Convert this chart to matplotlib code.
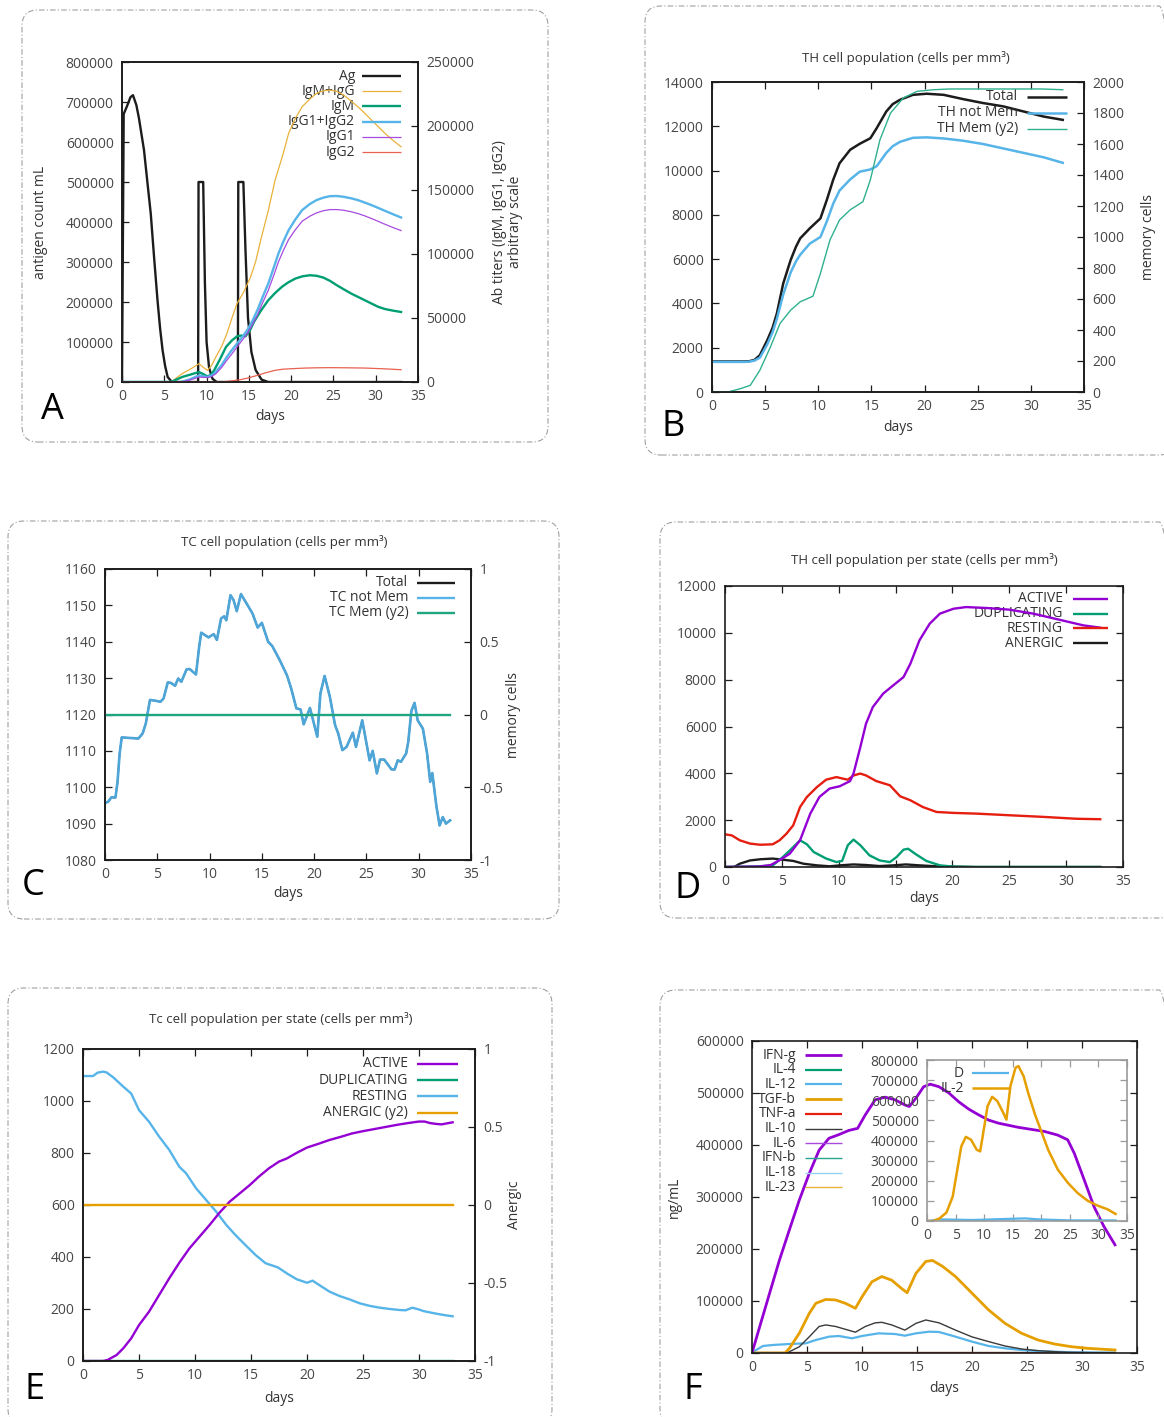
import matplotlib
matplotlib.use("Agg")
import numpy as np
import matplotlib.pyplot as plt
from matplotlib.patches import FancyBboxPatch
from matplotlib.transforms import IdentityTransform
from matplotlib.ticker import FuncFormatter

plt.rcParams['font.family'] = ['Open Sans', 'DejaVu Sans']

W, H = 1164, 1417

# gnuplot-like palette
BLACK = '#1c1c1c'
PURPLE = '#9400d3'
GREEN = '#009e73'
BLUE = '#56b4e9'
ORANGE = '#e69f00'
RED = '#e51e10'
TEAL = '#2fb08e'
TXT = '#333333'
TICK_TXT = '#474747'

# ---------------- Panel A: antigen / antibodies ----------------
ag_days = [0, 0.2, 0.6, 1.0, 1.3, 1.7, 2.0, 2.6, 3.0, 3.4, 3.8, 4.2, 4.5, 4.8, 5.1, 5.4, 5.8, 6.2,
           9.0, 9.05, 9.6, 9.8, 10.0, 10.3, 10.7, 11.2,
           13.7, 13.75, 14.35, 14.6, 14.9, 15.3, 15.8, 16.5, 17.3, 33.0]
ag = [0, 670000, 690000, 712000, 717000, 692000, 660000, 580000, 500000, 421000, 310000, 204000, 135000,
      79000, 40000, 12500, 2500, 0,
      0, 500000, 500000, 250000, 100000, 35000, 8000, 0,
      0, 500000, 500000, 330000, 160000, 75000, 30000, 6000, 0, 0]

igm_igg_days = [0, 5.8, 7.1, 8.2, 9.1, 9.6, 10.1, 10.6, 11.1, 11.8, 12.4, 13.0, 13.6, 14.4, 15.2, 15.8,
                16.4, 17.3, 18.1, 19.0, 19.7, 20.5, 21.3, 22.2, 23.0, 23.8, 24.6, 25.4, 26.2, 27.0,
                27.9, 28.7, 29.5, 30.3, 31.1, 32.0, 33.0]
igm_igg = [0, 0, 6500, 10500, 14300, 11500, 9100, 13000, 19600, 28000, 37800, 50000, 61300, 70400,
           82000, 94000, 110800, 134000, 157700, 177000, 194200, 206000, 215000, 221000, 225500,
           227500, 228100, 227000, 224200, 220000, 215000, 210000, 204600, 199500, 194200, 189000,
           183800]

igm_days = [0, 5.8, 7.1, 8.2, 9.1, 9.6, 10.1, 10.5, 10.9, 11.6, 12.3, 13.0, 13.6, 14.1, 14.6, 15.1,
            15.6, 16.4, 17.3, 18.1, 18.9, 19.7, 20.5, 21.3, 22.2, 23.0, 23.8, 24.6, 25.4, 26.2,
            27.1, 27.9, 28.7, 29.5, 30.3, 31.1, 32.0, 33.0]
igm = [0, 0, 3900, 6000, 7800, 6200, 4400, 5500, 9100, 18000, 27400, 32500, 35700, 36300, 35700,
       40000, 46900, 55500, 63900, 69500, 74300, 78000, 80800, 82500, 83400, 83000, 81600, 79000,
       75600, 72500, 69100, 66500, 63900, 61300, 58700, 57000, 55800, 54700]

igg_days = [0, 7.0, 8.0, 9.1, 9.6, 10.1, 10.6, 11.1, 11.8, 12.4, 13.0, 13.6, 14.2, 14.8, 15.4, 16.0,
            16.6, 17.3, 17.9, 18.5, 19.1, 19.7, 20.5, 21.3, 22.2, 23.0, 23.8, 24.6, 25.4, 26.2,
            27.1, 27.9, 28.7, 29.5, 30.3, 31.1, 32.0, 33.0]
igg1_igg2 = [0, 0, 2000, 5200, 4500, 3900, 5000, 7800, 13500, 19600, 25000, 30000, 35000, 40400,
             47500, 56000, 66000, 76900, 88500, 100400, 110000, 118600, 127000, 134300, 139000,
             142100, 144000, 145200, 145300, 144700, 143500, 142100, 140200, 138200, 136000,
             133700, 131200, 128500]
igg1 = [0, 0, 1500, 3900, 3600, 3500, 4300, 6500, 11500, 17000, 22000, 27400, 32500, 37800, 44500,
        52100, 61500, 71700, 82500, 93900, 103000, 111300, 119000, 125600, 129500, 132100, 133800,
        134700, 134700, 134200, 133000, 131600, 129800, 127700, 125500, 123200, 120800, 118300]

igg2_days = [0, 11.5, 12.5, 14.0, 15.0, 16.0, 17.0, 18.1, 19.0, 20.1, 21.0, 21.8, 23.0, 24.6, 26.5,
             28.7, 31.0, 33.0]
igg2 = [0, 0, 500, 1800, 3300, 5200, 7200, 9100, 10000, 10400, 10700, 10900, 11100, 11200, 11100,
        10900, 10300, 9600]

# ---------------- Panel B: TH cell population ----------------
th_days = [0, 1, 2, 3, 3.5, 4.0, 4.5, 5.2, 5.7, 6.1, 6.7, 7.4, 7.9, 8.3, 9.2, 10.2, 10.8, 11.4, 12.0,
           13.0, 13.9, 14.9, 15.5, 16.4, 17.0, 17.7, 18.9, 20.2, 21.8, 23.6, 25.5, 27.4, 29.3,
           31.2, 33.0]
th_total = [1380, 1380, 1380, 1380, 1390, 1450, 1660, 2340, 2900, 3540, 4900, 5960, 6560, 6940, 7390,
            7840, 8670, 9580, 10330, 10940, 11210, 11460, 11920, 12670, 13000, 13200, 13420,
            13470, 13420, 13230, 13050, 12900, 12670, 12440, 12290]
th_not_mem = [1360, 1360, 1360, 1360, 1370, 1420, 1550, 2150, 2700, 3300, 4400, 5400, 5900, 6200,
              6700, 7000, 7700, 8500, 9100, 9600, 9950, 10050, 10200, 10800, 11100, 11300, 11480,
              11500, 11450, 11350, 11200, 11000, 10800, 10600, 10350]
th_mem_days = [0, 1.5, 2.7, 3.6, 4.5, 5.5, 6.4, 7.4, 8.3, 9.5, 10.2, 11.1, 12.0, 13.0, 14.2, 14.9,
               15.8, 16.8, 18.0, 19.3, 20.8, 22.4, 25, 28, 31, 33]
th_mem = [0, 0, 22, 43, 140, 291, 442, 528, 582, 618, 765, 981, 1110, 1175, 1228, 1369, 1627, 1800,
          1897, 1940, 1950, 1955, 1955, 1955, 1955, 1950]

# ---------------- Panel C: TC cell population ----------------
tc_days = [0, 0.3, 0.6, 1.0, 1.2, 1.4, 1.6, 2.1, 3.2, 3.6, 3.9, 4.3, 4.8, 5.3, 5.6, 6.0, 6.3, 6.7,
           7.0, 7.3, 7.8, 8.1, 8.7, 9.0, 9.2, 9.9, 10.4, 10.7, 11.1, 11.4, 11.6, 12.0, 12.3, 12.6,
           13.0, 13.5, 14.1, 14.6, 15.0, 15.6, 16.0, 16.7, 17.4, 17.8, 18.3, 18.7, 19.0, 19.6,
           20.3, 20.6, 21.0, 21.5, 22.0, 22.3, 22.7, 23.1, 23.7, 24.0, 24.6, 25.3, 25.6, 26.0,
           26.3, 26.7, 27.4, 27.7, 28.0, 28.3, 28.8, 29.0, 29.3, 29.6, 29.9, 30.4, 30.8, 31.1,
           31.3, 31.7, 32.0, 32.3, 32.6, 33.0]
tc_not_mem = [1095.7, 1096, 1097.2, 1097.2, 1101.5, 1109.3, 1113.7, 1113.6, 1113.4, 1114.8, 1117.5,
              1124, 1123.8, 1123.5, 1124.4, 1128.8, 1128.7, 1127.9, 1129.9, 1129, 1132.4, 1132.5,
              1131, 1138.5, 1142.5, 1141.2, 1142.1, 1140.5, 1146.4, 1147, 1145.9, 1152.8, 1151.4,
              1148.4, 1153.1, 1150.7, 1147.8, 1143.9, 1145.2, 1140, 1138.8, 1135, 1130.8, 1127.2,
              1121.7, 1121.4, 1117.3, 1121.8, 1113.9, 1125.8, 1130.6, 1124.9, 1117.1, 1114.8,
              1110.2, 1111.1, 1115, 1111.1, 1118.4, 1107.4, 1110, 1103.8, 1107.6, 1107.6, 1104.9,
              1104.9, 1107.4, 1107, 1109.3, 1112.5, 1121, 1123.2, 1118.4, 1116.1, 1109.3, 1101.5,
              1103.9, 1094.6, 1089.5, 1091.8, 1090, 1090.9]
tc_total = tc_not_mem          # memory cells stay at zero
tc_mem_days = [0, 33]
tc_mem = [0, 0]

# ---------------- Panel D: TH cell population per state ----------------
d_active_days = [0, 3, 4, 4.5, 5.1, 5.7, 6.6, 7.5, 8.3, 9.2, 10.1, 11.0, 11.3, 11.9, 12.4, 13.0,
                 13.9, 14.8, 15.7, 16.3, 17.1, 18.0, 18.9, 20.1, 21.2, 23.0, 25.0, 27.1, 29.4,
                 31.5, 33.0]
d_active = [0, 20, 80, 210, 380, 570, 1140, 2280, 2990, 3350, 3450, 3670, 3990, 5120, 6120, 6830,
            7400, 7760, 8110, 8680, 9680, 10390, 10820, 11030, 11100, 11060, 10990, 10820, 10560,
            10320, 10220]
d_rest_days = [0, 0.6, 1.3, 2.2, 3.1, 4.2, 4.8, 5.4, 6.0, 6.6, 7.2, 8.1, 8.9, 9.8, 10.4, 10.8, 11.3,
               11.9, 12.4, 13.3, 14.5, 15.4, 16.3, 17.4, 18.6, 20.1, 22.1, 25.0, 28.0, 30.9, 33.0]
d_resting = [1395, 1350, 1140, 1000, 950, 970, 1140, 1420, 1780, 2560, 2990, 3420, 3730, 3840, 3770,
             3730, 3910, 3990, 3910, 3670, 3490, 3020, 2850, 2560, 2350, 2310, 2280, 2210, 2140,
             2060, 2040]
d_dup_days = [0, 3, 4.2, 5.1, 6.0, 6.6, 7.2, 7.8, 8.9, 9.8, 10.3, 10.8, 11.3, 11.9, 12.7, 13.6,
              14.5, 15.1, 15.7, 16.1, 16.8, 17.7, 18.9, 20.1, 22, 33]
d_dup = [0, 30, 70, 430, 850, 1140, 970, 640, 360, 210, 260, 930, 1170, 930, 500, 280, 210, 430,
         740, 780, 540, 260, 70, 15, 0, 0]
d_anergic_days = [0, 0.8, 1.3, 2.2, 3.1, 4.2, 5.1, 6.0, 6.9, 8.1, 9.2, 10.1, 11.3, 12.4, 13.6, 14.8,
                  15.9, 17.1, 18.6, 22, 33]
d_anergic = [0, 0, 140, 280, 330, 360, 310, 260, 140, 70, 30, 70, 110, 85, 40, 70, 110, 70, 30, 0, 0]

# ---------------- Panel E: Tc cell population per state ----------------
e_rest_days = [0, 0.9, 1.3, 1.8, 2.1, 2.7, 3.6, 4.3, 5.0, 5.9, 6.8, 7.7, 8.6, 9.2, 10.1, 11.0, 11.9,
               12.8, 13.6, 14.5, 15.4, 16.3, 17.4, 18.2, 19.1, 20.0, 20.5, 21.1, 22.0, 22.9, 23.8,
               24.7, 25.6, 26.5, 27.4, 28.3, 28.8, 29.4, 30.0, 30.4, 31.3, 32.2, 33.0]
e_resting = [1096, 1096, 1109, 1113, 1110, 1091, 1055, 1029, 965, 920, 863, 812, 747, 722, 664, 619,
             574, 523, 485, 446, 408, 376, 360, 337, 314, 301, 309, 292, 267, 250, 237, 222, 212,
             205, 200, 196, 195, 205, 198, 192, 184, 177, 172]
e_act_days = [0, 1.8, 2.2, 3.0, 3.6, 4.3, 5.0, 5.9, 6.8, 7.7, 8.6, 9.5, 10.4, 11.3, 12.2, 13.1, 14.0,
              14.9, 15.7, 16.6, 17.5, 18.2, 19.1, 20.0, 21.0, 22.0, 23.0, 24.0, 25.0, 26.0, 27.0,
              28.0, 29.0, 30.0, 30.5, 31.0, 31.5, 32.0, 32.5, 33.0]
e_active = [0, 0, 4, 23, 49, 87, 138, 190, 254, 318, 378, 433, 478, 523, 571, 613, 645, 677, 709,
            741, 767, 779, 801, 821, 835, 850, 862, 875, 884, 892, 900, 908, 915, 921, 921, 915,
            912, 910, 914, 918]
e_flat_days = [0, 33]
e_dup = [0, 0]
e_anergic = [0, 0]

# ---------------- Panel F: cytokines ----------------
ifng_days = [0, 0.7, 1.6, 2.5, 3.4, 4.3, 5.2, 6.1, 7.0, 7.9, 8.8, 9.6, 10.3, 11.2, 12.1, 13.0, 13.9,
             14.3, 14.9, 15.6, 16.2, 17.0, 17.9, 18.8, 19.7, 20.6, 21.5, 22.4, 23.3, 24.2, 25.4,
             26.6, 27.8, 28.7, 29.3, 30.2, 31.1, 32.0, 33.0]
ifng = [0, 50600, 115000, 179000, 237000, 294000, 345000, 390000, 413000, 420000, 428000, 432000,
        458000, 487000, 492000, 487000, 477000, 474000, 490000, 512000, 517000, 512000, 500000,
        483000, 469000, 458000, 448000, 442000, 438000, 434000, 430000, 426000, 419000, 410000,
        384000, 333000, 281000, 243000, 208000]
tgfb_days = [0, 3.0, 3.4, 4.3, 5.2, 5.8, 6.7, 7.6, 8.5, 9.4, 10.0, 10.9, 11.8, 12.7, 13.6, 14.1,
             14.9, 15.8, 16.4, 17.3, 18.5, 20.0, 21.5, 23.0, 24.5, 26.0, 27.5, 29.0, 30.5, 33.0]
tgfb = [0, 0, 9000, 38000, 76000, 95500, 103000, 102000, 95500, 86000, 108000, 137000, 147000,
        140000, 124000, 116000, 153000, 176000, 178000, 167000, 147000, 115000, 83000, 57000,
        38000, 25000, 17300, 12200, 9000, 5800]
il10_days = [0, 3.2, 3.4, 4.3, 5.2, 6.1, 6.7, 7.6, 8.5, 9.4, 10.3, 11.2, 11.8, 12.7, 13.9, 14.9,
             15.8, 17.0, 18.5, 20.0, 21.5, 23.0, 24.5, 26.0, 27.5, 29.0, 33.0]
il10 = [0, 0, 2500, 12000, 31000, 51000, 54000, 51000, 45500, 40000, 51000, 58000, 59000, 54000,
        44000, 57000, 63500, 58000, 44000, 31000, 22000, 13500, 7700, 4500, 2500, 1300, 0]
il12_days = [0, 0.4, 1.0, 1.9, 3.4, 4.9, 5.8, 7.0, 7.9, 9.1, 10.0, 11.5, 13.0, 13.9, 14.9, 16.1,
             17.0, 18.5, 20.0, 21.5, 23.0, 24.5, 26.0, 29.0, 33.0]
il12 = [0, 6000, 13500, 15400, 17300, 18600, 25000, 31400, 32700, 28200, 32700, 37800, 36500,
        33300, 37800, 41000, 40400, 31400, 21800, 13500, 9000, 5800, 3800, 1300, 600]
f_flat_days = [0, 33]
il4 = [0, 0]
tnfa = [0, 0]
il6 = [0, 0]
ifnb = [0, 0]
il18 = [0, 0]
il23 = [0, 0]

# inset
il2_days = [0, 1.1, 2.2, 3.4, 4.5, 5.4, 6.0, 6.8, 7.7, 8.7, 9.3, 9.7, 10.6, 11.4, 12.3, 13.2, 13.9,
            14.6, 15.5, 16.0, 16.9, 17.7, 18.9, 20.1, 21.2, 22.9, 24.7, 26.4, 28.1, 29.8, 31.6, 33.0]
il2 = [0, 0, 13000, 42000, 121000, 271000, 371000, 418000, 404000, 354000, 346000, 413000, 571000,
       617000, 596000, 546000, 504000, 671000, 762000, 770000, 720000, 637000, 529000, 438000,
       354000, 255000, 188000, 138000, 101000, 77000, 58000, 35000]
dc_days = [0, 2.2, 8, 13.7, 17.2, 19.5, 25, 33]
dc = [0, 8000, 5000, 10000, 13000, 8000, 3000, 3000]


fig = plt.figure(figsize=(W / 100, H / 100), dpi=100)
fmt = FuncFormatter(lambda v, p: f'{v:g}')


def add_ax(l, t, r, b):
    # pixel box (left, top, right, bottom) -> figure axes
    return fig.add_axes([l / W, 1 - b / H, (r - l) / W, (b - t) / H])


def frame(ax, top=True, right=True, left=True, edge=BLACK, tick=BLACK):
    ax.tick_params(axis='both', direction='in', length=5, width=0.9, color=tick,
                   labelcolor=TICK_TXT, labelsize=10, top=top, right=right, left=left)
    ax.tick_params(axis='y', pad=6)
    ax.tick_params(axis='x', pad=5)
    for s in ax.spines.values():
        s.set_linewidth(1.2)
        s.set_color(edge)
    ax.set_xlim(0, 35)
    ax.set_xticks(range(0, 36, 5))
    ax.yaxis.set_major_formatter(fmt)


def yaxis(ax, lo, hi, step):
    ax.set_ylim(lo, hi)
    ax.set_yticks(np.arange(lo, hi + step / 2, step))
    ax.yaxis.set_major_formatter(fmt)


def twin(ax):
    ax2 = ax.twinx()
    ax2.tick_params(axis='y', direction='in', length=5, width=0.9, color=BLACK,
                    labelcolor=TICK_TXT, labelsize=10, pad=6, right=True, left=False)
    for s in ax2.spines.values():
        s.set_linewidth(1.2)
        s.set_color(BLACK)
    return ax2


def key(ax, items, xt, y0, dy, x0, x1, fs=10):
    # gnuplot style key: right aligned text, sample line on its right
    for i, (label, color, lw) in enumerate(items):
        y = y0 - i * dy
        ax.text(xt, y, label, transform=ax.transAxes, ha='right', va='center',
                fontsize=fs, color=TXT, zorder=1.5)
        ax.plot([x0, x1], [y, y], transform=ax.transAxes, color=color, lw=lw,
                clip_on=False, solid_capstyle='butt')


def days_label(ax, y):
    ax.set_xlabel('days', fontsize=10, color=TXT)
    ax.xaxis.set_label_coords(0.5, y)


def panel_box(l, t, r, b, letter, lx, ly):
    p = FancyBboxPatch((l, H - b), r - l, b - t, boxstyle='round,pad=0,rounding_size=16',
                       transform=IdentityTransform(), fill=False, edgecolor='#a0a0a0',
                       lw=0.8, linestyle=(0, (5, 2, 1, 2)))
    fig.add_artist(p)
    fig.text(lx / W, 1 - ly / H, letter, fontsize=26, ha='center', va='center', color='black')


def title(x, y, s):
    fig.text(x / W, 1 - y / H, s, fontsize=9.5, ha='center', va='center', color=TXT)


# ---- A ----
panel_box(22, 10, 548, 442, 'A', 52, 410)
axA = add_ax(122, 62, 418, 382)
frame(axA, top=False, right=False)
yaxis(axA, 0, 800000, 100000)
axA.plot(ag_days, ag, color=BLACK, lw=1.7)
axA.set_ylabel('antigen count mL', fontsize=10, color=TXT)
axA.yaxis.set_label_coords(-0.25, 0.5)
days_label(axA, -0.085)
axA2 = twin(axA)
yaxis(axA2, 0, 250000, 50000)
axA2.plot(igm_igg_days, igm_igg, color='#e8b23a', lw=0.9)
axA2.plot(igm_days, igm, color=GREEN, lw=1.7)
axA2.plot(igg_days, igg1_igg2, color=BLUE, lw=1.7)
axA2.plot(igg_days, igg1, color='#a64ae0', lw=0.9)
axA2.plot(igg2_days, igg2, color='#e8604f', lw=0.9)
axA2.set_ylabel('Ab titers (IgM, IgG1, IgG2)\narbitrary scale', fontsize=10, color=TXT,
                linespacing=1.1)
axA2.yaxis.set_label_coords(1.25, 0.5)
key(axA2, [('Ag', BLACK, 1.7), ('IgM+IgG', '#e8b23a', 0.9), ('IgM', GREEN, 1.7),
           ('IgG1+IgG2', BLUE, 1.7), ('IgG1', '#a64ae0', 0.9), ('IgG2', '#e8604f', 0.9)],
    0.787, 0.956, 0.0475, 0.811, 0.943)

# ---- B ----
panel_box(645, 6, 1175, 455, 'B', 673, 427)
title(906, 58, 'TH cell population (cells per mm³)')
axB = add_ax(712, 82, 1084, 392)
frame(axB, right=False)
yaxis(axB, 0, 14000, 2000)
axB.plot(th_days, th_total, color=BLACK, lw=1.8)
axB.plot(th_days, th_not_mem, color=BLUE, lw=1.8)
days_label(axB, -0.09)
axB2 = twin(axB)
yaxis(axB2, 0, 2000, 200)
axB2.plot(th_mem_days, th_mem, color=TEAL, lw=1.0)
axB2.set_ylabel('memory cells', fontsize=10, color=TXT)
axB2.yaxis.set_label_coords(1.153, 0.5)
key(axB2, [('Total', BLACK, 1.8), ('TH not Mem', BLUE, 1.8), ('TH Mem (y2)', TEAL, 1.0)],
    0.823, 0.9526, 0.0516, 0.847, 0.954)

# ---- C ----
panel_box(8, 521, 559, 919, 'C', 33, 886)
title(284, 542, 'TC cell population (cells per mm³)')
axC = add_ax(105, 569, 471, 860)
frame(axC, right=False)
yaxis(axC, 1080, 1160, 10)
axC.plot(tc_days, tc_total, color=BLACK, lw=1.2)
axC.plot(tc_days, tc_not_mem, color='#4ea6d8', lw=1.9)
days_label(axC, -0.09)
axC2 = twin(axC)
yaxis(axC2, -1, 1, 0.5)
axC2.plot(tc_mem_days, tc_mem, color='#1fa680', lw=1.7)
axC2.set_ylabel('memory cells', fontsize=10, color=TXT)
axC2.yaxis.set_label_coords(1.096, 0.5)
key(axC2, [('Total', BLACK, 1.7), ('TC not Mem', BLUE, 1.7), ('TC Mem (y2)', '#1fa680', 1.7)],
    0.829, 0.953, 0.0515, 0.852, 0.956)

# ---- D ----
panel_box(660, 522, 1175, 918, 'D', 688, 889)
title(924, 560, 'TH cell population per state (cells per mm³)')
axD = add_ax(725, 586, 1123, 867)
frame(axD)
yaxis(axD, 0, 12000, 2000)
axD.plot(d_anergic_days, d_anergic, color=BLACK, lw=1.7)
axD.plot(d_dup_days, d_dup, color=GREEN, lw=1.7)
axD.plot(d_rest_days, d_resting, color=RED, lw=1.7)
axD.plot(d_active_days, d_active, color=PURPLE, lw=1.7)
days_label(axD, -0.085)
key(axD, [('ACTIVE', PURPLE, 1.7), ('DUPLICATING', GREEN, 1.7), ('RESTING', RED, 1.7),
          ('ANERGIC', BLACK, 1.7)], 0.849, 0.954, 0.0523, 0.874, 0.962)

# ---- E ----
panel_box(8, 988, 552, 1425, 'E', 35, 1390)
title(281, 1019, 'Tc cell population per state (cells per mm³)')
axE = add_ax(83, 1049, 475, 1361)
frame(axE, right=False)
yaxis(axE, 0, 1200, 200)
axE.plot(e_flat_days, e_dup, color=GREEN, lw=1.7)
axE.plot(e_rest_days, e_resting, color=BLUE, lw=1.7)
axE.plot(e_act_days, e_active, color=PURPLE, lw=1.7)
days_label(axE, -0.095)
axE2 = twin(axE)
yaxis(axE2, -1, 1, 0.5)
axE2.plot(e_flat_days, e_anergic, color=ORANGE, lw=1.7)
axE2.set_ylabel('Anergic', fontsize=10, color=TXT)
axE2.yaxis.set_label_coords(1.082, 0.5)
key(axE2, [('ACTIVE', PURPLE, 1.7), ('DUPLICATING', GREEN, 1.7), ('RESTING', BLUE, 1.7),
           ('ANERGIC (y2)', ORANGE, 1.7)], 0.829, 0.952, 0.052, 0.851, 0.957)

# ---- F ----
panel_box(660, 990, 1175, 1425, 'F', 693, 1390)
axF = add_ax(752, 1041, 1137, 1353)
frame(axF)
yaxis(axF, 0, 600000, 100000)
axF.plot(f_flat_days, il4, color=GREEN, lw=1.6)
axF.plot(f_flat_days, il6, color='#a64ae0', lw=1.0)
axF.plot(f_flat_days, ifnb, color='#2aa78a', lw=1.0)
axF.plot(f_flat_days, il18, color='#93d2f2', lw=1.0)
axF.plot(f_flat_days, il23, color='#e8b23a', lw=1.0)
axF.plot(f_flat_days, tnfa, color=RED, lw=1.6)
axF.plot(il12_days, il12, color=BLUE, lw=1.6)
axF.plot(il10_days, il10, color='#3a3a3a', lw=1.0)
axF.plot(tgfb_days, tgfb, color=ORANGE, lw=2.0)
axF.plot(ifng_days, ifng, color=PURPLE, lw=2.0)
axF.set_ylabel('ng/mL', fontsize=10, color=TXT)
axF.yaxis.set_label_coords(-0.182, 0.5)
days_label(axF, -0.09)
key(axF, [('IFN-g', PURPLE, 2.0), ('IL-4', GREEN, 1.6), ('IL-12', BLUE, 1.6),
          ('TGF-b', ORANGE, 2.0), ('TNF-a', RED, 1.6), ('IL-10', '#3a3a3a', 1.0),
          ('IL-6', '#a64ae0', 1.0), ('IFN-b', '#2aa78a', 1.0), ('IL-18', '#93d2f2', 1.0),
          ('IL-23', '#e8b23a', 1.0)], 0.114, 0.955, 0.0471, 0.138, 0.233)

axI = add_ax(927, 1060, 1127, 1221)
axI.set_facecolor('none')
frame(axI, edge='#9a9a9a', tick='#9a9a9a')
yaxis(axI, 0, 800000, 100000)
axI.plot(dc_days, dc, color=BLUE, lw=1.6)
axI.plot(il2_days, il2, color=ORANGE, lw=1.8)
key(axI, [('D', BLUE, 1.6), ('IL-2', ORANGE, 1.8)], 0.185, 0.917, 0.093, 0.225, 0.41)

fig.savefig('out.png', dpi=100)
